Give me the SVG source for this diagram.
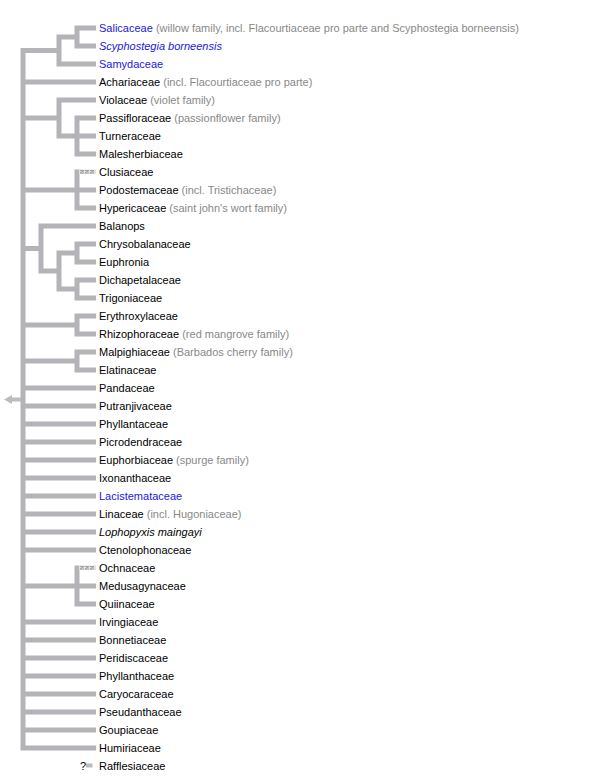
<svg xmlns="http://www.w3.org/2000/svg" width="598" height="777" viewBox="0 0 598 777">
<style>
.br{fill:none;stroke:#b4b4b8;stroke-width:5;stroke-linejoin:miter}
.zz{fill:#e2e2e2}
.zl{fill:none;stroke:#a0a0a0;stroke-width:1}
text{font-family:"Liberation Sans",Arial,sans-serif;font-size:11px;fill:#000}
.bl{fill:#2020e0}
.it{font-style:italic}
.an{fill:#888}
.arr{fill:#bcbcbc}
</style>
<rect width="598" height="777" fill="#fff"/>
<g id="connectors">
<path class="br" d="M96 28 H77 V46 H96"/>
<path class="br" d="M77 37 H59 V64 H96"/>
<path class="br" d="M59 50.5 H23 V748 H96"/>
<path class="br" d="M23 82 H96"/>
<path class="br" d="M96 100 H59 V136 H77"/>
<path class="br" d="M96 118 H77 V154 H96 M77 136 H96 M23 118 H59"/>
<path class="br" d="M77 169.5 V208 H96 M23 190 H96"/>
<rect class="zz" x="79" y="169.5" width="17" height="4.5"/>
<path class="zl" d="M80 170.5 h4 l-4 2.5 h4 M85 170.5 h4 l-4 2.5 h4 M90 170.5 h4 l-4 2.5 h4"/>
<path class="br" d="M23 248.5 H41 M96 226 H41 V271 H59"/>
<path class="br" d="M77 253 H59 V289 H77"/>
<path class="br" d="M96 244 H77 V262 H96"/>
<path class="br" d="M96 280 H77 V298 H96"/>
<path class="br" d="M96 316 H77 V334 H96 M23 325 H77"/>
<path class="br" d="M96 352 H77 V370 H96 M23 361 H77"/>
<path class="br" d="M23 388 H96 M23 406 H96 M23 424 H96 M23 442 H96 M23 460 H96 M23 478 H96 M23 496 H96 M23 514 H96 M23 532 H96 M23 550 H96"/>
<path class="br" d="M77 565.5 V604 H96 M23 586 H96"/>
<rect class="zz" x="79" y="565.5" width="17" height="4.5"/>
<path class="zl" d="M80 566.5 h4 l-4 2.5 h4 M85 566.5 h4 l-4 2.5 h4 M90 566.5 h4 l-4 2.5 h4"/>
<path class="br" d="M23 622 H96 M23 640 H96 M23 658 H96 M23 676 H96 M23 694 H96 M23 712 H96 M23 730 H96"/>
<polygon class="arr" points="4,399.5 12,395 12,404"/>
<rect class="arr" x="12" y="397.5" width="9" height="4"/>
<rect x="86" y="763.5" width="6.5" height="4" fill="#bcbcbc"/>
</g>
<g id="n0"><text x="99" y="32"><tspan class="bl">Salicaceae</tspan><tspan class="an"> (willow family, incl. Flacourtiaceae pro parte and Scyphostegia borneensis)</tspan></text></g>
<g id="n1"><text x="99" y="50" class="bl it">Scyphostegia borneensis</text></g>
<g id="n2"><text x="99" y="68" class="bl">Samydaceae</text></g>
<g id="n3"><text x="99" y="86">Achariaceae<tspan class="an"> (incl. Flacourtiaceae pro parte)</tspan></text></g>
<g id="n4"><text x="99" y="104">Violaceae<tspan class="an"> (violet family)</tspan></text></g>
<g id="n5"><text x="99" y="122">Passifloraceae<tspan class="an"> (passionflower family)</tspan></text></g>
<g id="n6"><text x="99" y="140">Turneraceae</text></g>
<g id="n7"><text x="99" y="158">Malesherbiaceae</text></g>
<g id="n8"><text x="99" y="176">Clusiaceae</text></g>
<g id="n9"><text x="99" y="194">Podostemaceae<tspan class="an"> (incl. Tristichaceae)</tspan></text></g>
<g id="n10"><text x="99" y="212">Hypericaceae<tspan class="an"> (saint john's wort family)</tspan></text></g>
<g id="n11"><text x="99" y="230">Balanops</text></g>
<g id="n12"><text x="99" y="248">Chrysobalanaceae</text></g>
<g id="n13"><text x="99" y="266">Euphronia</text></g>
<g id="n14"><text x="99" y="284">Dichapetalaceae</text></g>
<g id="n15"><text x="99" y="302">Trigoniaceae</text></g>
<g id="n16"><text x="99" y="320">Erythroxylaceae</text></g>
<g id="n17"><text x="99" y="338">Rhizophoraceae<tspan class="an"> (red mangrove family)</tspan></text></g>
<g id="n18"><text x="99" y="356">Malpighiaceae<tspan class="an"> (Barbados cherry family)</tspan></text></g>
<g id="n19"><text x="99" y="374">Elatinaceae</text></g>
<g id="n20"><text x="99" y="392">Pandaceae</text></g>
<g id="n21"><text x="99" y="410">Putranjivaceae</text></g>
<g id="n22"><text x="99" y="428">Phyllantaceae</text></g>
<g id="n23"><text x="99" y="446">Picrodendraceae</text></g>
<g id="n24"><text x="99" y="464">Euphorbiaceae<tspan class="an"> (spurge family)</tspan></text></g>
<g id="n25"><text x="99" y="482">Ixonanthaceae</text></g>
<g id="n26"><text x="99" y="500" class="bl">Lacistemataceae</text></g>
<g id="n27"><text x="99" y="518">Linaceae<tspan class="an"> (incl. Hugoniaceae)</tspan></text></g>
<g id="n28"><text x="99" y="536" class="it">Lophopyxis maingayi</text></g>
<g id="n29"><text x="99" y="554">Ctenolophonaceae</text></g>
<g id="n30"><text x="99" y="572">Ochnaceae</text></g>
<g id="n31"><text x="99" y="590">Medusagynaceae</text></g>
<g id="n32"><text x="99" y="608">Quiinaceae</text></g>
<g id="n33"><text x="99" y="626">Irvingiaceae</text></g>
<g id="n34"><text x="99" y="644">Bonnetiaceae</text></g>
<g id="n35"><text x="99" y="662">Peridiscaceae</text></g>
<g id="n36"><text x="99" y="680">Phyllanthaceae</text></g>
<g id="n37"><text x="99" y="698">Caryocaraceae</text></g>
<g id="n38"><text x="99" y="716">Pseudanthaceae</text></g>
<g id="n39"><text x="99" y="734">Goupiaceae</text></g>
<g id="n40"><text x="99" y="752">Humiriaceae</text></g>
<g id="n41"><text x="80" y="770">?</text><text x="99" y="770">Rafflesiaceae</text></g>
</svg>
